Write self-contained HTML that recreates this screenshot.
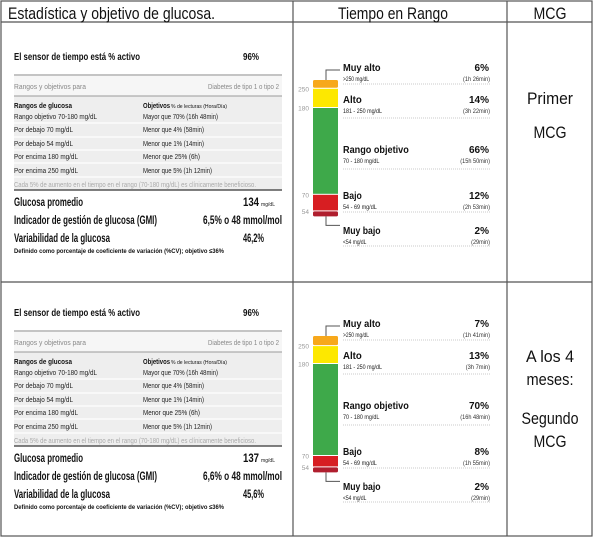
<!DOCTYPE html>
<html><head><meta charset="utf-8">
<style>
html,body{margin:0;padding:0;background:#fff;}
svg{display:block;font-family:"Liberation Sans",Arial,sans-serif;}
</style></head>
<body>
<svg id="root" width="602" height="542" viewBox="0 0 602 542" xmlns="http://www.w3.org/2000/svg">
  <g stroke="#555" stroke-width="1.2" fill="none">
    <rect x="1" y="1" width="591" height="535"/>
    <line x1="1" y1="22" x2="592" y2="22"/>
    <line x1="1" y1="282" x2="592" y2="282"/>
    <line x1="293" y1="1" x2="293" y2="536"/>
    <line x1="507" y1="1" x2="507" y2="536"/>
  </g>
  <g id="content"></g>
</svg>
<script>
// ---- chart data ----
const categories = ["Muy alto","Alto","Rango objetivo","Bajo","Muy bajo"];
const rangeLabels = [">250 mg/dL","181 - 250 mg/dL","70 - 180 mg/dL","54 - 69 mg/dL","<54 mg/dL"];
const pctFirst = [6,14,66,12,2];
const timeFirst = ["(1h 26min)","(3h 22min)","(15h 50min)","(2h 53min)","(29min)"];
const pctSecond = [7,13,70,8,2];
const timeSecond = ["(1h 41min)","(3h 7min)","(16h 48min)","(1h 55min)","(29min)"];
const tickLabels = ["250","180","70","54"];
const statsFirst = ["96%","134","6,5% o 48 mmol/mol","46,2%"];
const statsSecond = ["96%","137","6,6% o 48 mmol/mol","45,6%"];

const NS="http://www.w3.org/2000/svg";
const root=document.getElementById('content');
function txt(parent,name,x,y,s,size,opts){
  opts=opts||{};
  const el=document.createElementNS(NS,'text');
  
  
  el.setAttribute('x',x);el.setAttribute('y',y);
  el.setAttribute('font-size',size);
  if(opts.bold)el.setAttribute('font-weight','bold');
  el.setAttribute('fill',opts.fill||'#111');
  if(opts.anchor)el.setAttribute('text-anchor',opts.anchor);
  if(opts.w){el.setAttribute('textLength',opts.w);el.setAttribute('lengthAdjust','spacingAndGlyphs');}
  el.textContent=s;parent.appendChild(el);return el;
}
function shape(parent,tag,name,attrs){
  const el=document.createElementNS(NS,tag);
  
  
  for(const k in attrs)el.setAttribute(k,attrs[k]);
  parent.appendChild(el);return el;
}
// headers
txt(root,'header-statistics',8,19,'Estadística y objetivo de glucosa.',17,{w:207});
txt(root,'header-time-in-range',393,19,'Tiempo en Rango',17,{anchor:'middle',w:110});
txt(root,'header-cgm',550,19,'MCG',17,{anchor:'middle',w:33});
txt(root,'label-primer',550,104,'Primer',17,{anchor:'middle',w:46});
txt(root,'label-mcg-1',550,138,'MCG',17,{anchor:'middle',w:33});
txt(root,'label-a-los-4',550,362,'A los 4',17,{anchor:'middle',w:48});
txt(root,'label-meses',550,385,'meses:',17,{anchor:'middle',w:47});
txt(root,'label-segundo',550,424,'Segundo',17,{anchor:'middle',w:57});
txt(root,'label-mcg-2',550,447,'MCG',17,{anchor:'middle',w:33});

function statsPanel(off,vals,name){
  const g=shape(root,'g',name,{transform:'translate(0,'+off+')'});
  txt(g,'sensor-active-label',14,60,'El sensor de tiempo está % activo',10.5,{bold:1,w:126});
  txt(g,'sensor-active-value',243,60,vals[0],10.5,{bold:1,w:16});
  shape(g,'rect','targets-header-band',{x:14,y:76,width:268,height:20,fill:'#f6f6f6'});
  shape(g,'line','targets-top-rule',{x1:14,y1:75,x2:282,y2:75,stroke:'#888','stroke-width':1});
  txt(g,'targets-header-left',14,89,'Rangos y objetivos para',7,{fill:'#888',w:72});
  txt(g,'targets-header-right',279,89,'Diabetes de tipo 1 o tipo 2',7,{fill:'#888',anchor:'end',w:71});
  shape(g,'rect','targets-table-bg',{x:14,y:96,width:268,height:94,fill:'#eeeeee'});
  shape(g,'line','targets-mid-rule',{x1:14,y1:96,x2:282,y2:96,stroke:'#999','stroke-width':1});
  [123,137,150,163,177].forEach(function(y){shape(g,'line','targets-row-sep',{x1:14,y1:y,x2:282,y2:y,stroke:'#fff','stroke-width':1.2});});
  shape(g,'line','targets-bottom-rule',{x1:14,y1:190,x2:282,y2:190,stroke:'#555','stroke-width':1.5});
  txt(g,'col-ranges-title',14,108,'Rangos de glucosa',7,{bold:1,w:58});
  txt(g,'col-targets-title',143,108,'Objetivos',7,{bold:1,w:27});
  txt(g,'col-targets-sub',171,108,'% de lecturas (Hora/Día)',5,{w:56});
  const rows=[['Rango objetivo 70-180 mg/dL',83,'Mayor que 70% (16h 48min)',75,119],
    ['Por debajo 70 mg/dL',59,'Menor que 4% (58min)',61,132],
    ['Por debajo 54 mg/dL',59,'Menor que 1% (14min)',61,146],
    ['Por encima 180 mg/dL',64,'Menor que 25% (6h)',57,159],
    ['Por encima 250 mg/dL',64,'Menor que 5% (1h 12min)',69,173]];
  rows.forEach(function(r){txt(g,'target-range',14,r[4],r[0],7,{fill:'#222',w:r[1]});txt(g,'target-goal',143,r[4],r[2],7,{fill:'#222',w:r[3]});});
  txt(g,'targets-note',14,187,'Cada 5% de aumento en el tiempo en el rango (70-180 mg/dL) es clínicamente beneficioso.',7,{fill:'#aaa',w:242});
  txt(g,'avg-glucose-label',14,206,'Glucosa promedio',12,{bold:1,w:69});
  txt(g,'avg-glucose-value',243,206,vals[1],12,{bold:1,w:16});
  txt(g,'avg-glucose-unit',261,206,'mg/dL',5,{w:14});
  txt(g,'gmi-label',14,224,'Indicador de gestión de glucosa (GMI)',12,{bold:1,w:143});
  txt(g,'gmi-value',282,224,vals[2],12,{bold:1,anchor:'end',w:79});
  txt(g,'cv-label',14,242,'Variabilidad de la glucosa',12,{bold:1,w:96});
  txt(g,'cv-value',243,242,vals[3],12,{bold:1,w:21});
  txt(g,'cv-definition',14,253,'Definido como porcentaje de coeficiente de variación (%CV); objetivo ≤36%',6.5,{bold:1,w:210});
}
statsPanel(0,statsFirst,'stats-panel-first');
statsPanel(256,statsSecond,'stats-panel-second');

const segColors=['#f7a81b','#fde800','#3ea94a','#d71e22','#b01e2e'];
const labelY=[71,103,153,199,234];
const lineY=[84,118,169,212,246];
function yScale(p){return Math.max(5,p*1.3);}
function tirPanel(off,pcts,times,name){
  const g=shape(root,'g',name,{transform:'translate(0,'+off+')'});
  let y=80;const bounds=[];
  pcts.forEach(function(p,i){
    const h=yScale(p);
    const el=shape(g,'rect','bar-'+categories[i].toLowerCase().replace(/ /g,'-'),{x:313,y:y,width:25,height:h,fill:segColors[i],rx:(i==0||i==4)?1.5:0});
    y+=h; if(i<4){bounds.push(y+0.5);} y+=1;
  });
  const bottom=y-1;
  tickLabels.forEach(function(t,i){txt(g,'tick-'+t,309,bounds[i]+3,t,6.5,{fill:'#999',anchor:'end'});});
  shape(g,'polyline','connector-top',{points:'326,80 326,70 340,70',fill:'none',stroke:'#555','stroke-width':1});
  shape(g,'polyline','connector-bottom',{points:'326,'+bottom+' 326,'+(bottom+9)+' 340,'+(bottom+9),fill:'none',stroke:'#555','stroke-width':1});
  categories.forEach(function(c,i){
    const ly=labelY[i];
    txt(g,'category-label',343,ly,c,10,{bold:1,w:c.length*4.7});
    txt(g,'range-label',343,ly+10,rangeLabels[i],6,{fill:'#222',w:rangeLabels[i].length*2.6});
    txt(g,'percent-value',489,ly,pcts[i]+'%',10,{bold:1,anchor:'end'});
    txt(g,'time-value',490,ly+10,times[i],6,{fill:'#333',anchor:'end',w:times[i].length*2.7});
    shape(g,'line','dotted-separator',{x1:343,y1:lineY[i],x2:490,y2:lineY[i],stroke:'#bbb','stroke-width':0.8,'stroke-dasharray':'1,1'});
  });
}
tirPanel(0,pctFirst,timeFirst,'tir-chart-first');
tirPanel(256,pctSecond,timeSecond,'tir-chart-second');
</script>
</body></html>
